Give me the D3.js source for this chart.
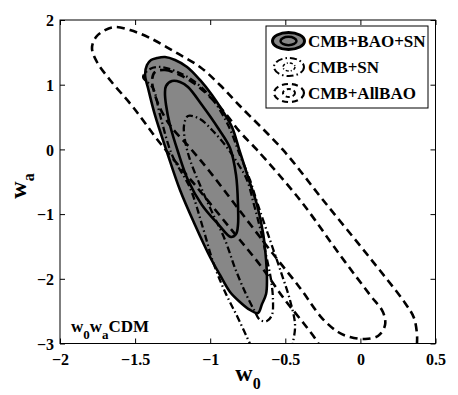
<!DOCTYPE html>
<html><head><meta charset="utf-8">
<script src="https://cdn.jsdelivr.net/npm/d3@7"></script>
<style>body{margin:0;background:#fff}svg{display:block}svg text{font-family:"Liberation Serif","Times New Roman","DejaVu Serif",serif !important;font-weight:bold}</style>
</head><body><svg id="c" width="458" height="395"></svg>
<script>
// Tick labels
const xTicks = [-2, -1.5, -1, -0.5, 0, 0.5];
const yTicks = [-3, -2, -1, 0, 1, 2];
const legendLabels = ["CMB+BAO+SN", "CMB+SN", "CMB+AllBAO"];

// CMB+BAO+SN 95% contour (filled) [w0, wa]
const bsn95 = [[-1.354,1.413],[-1.301,1.428],[-1.234,1.382],[-1.154,1.274],[-1.068,1.073],[-0.988,0.841],[-0.921,0.609],[-0.855,0.346],[-0.802,-0.040],[-0.735,-0.519],[-0.688,-0.859],[-0.648,-1.292],[-0.628,-1.709],[-0.622,-2.019],[-0.628,-2.235],[-0.655,-2.390],[-0.682,-2.529],[-0.735,-2.482],[-0.802,-2.359],[-0.868,-2.204],[-0.935,-1.941],[-1.001,-1.663],[-1.101,-1.168],[-1.201,-0.628],[-1.288,-0.040],[-1.368,0.532],[-1.414,0.949],[-1.434,1.150],[-1.421,1.304],[-1.394,1.382]];
// CMB+BAO+SN 68% contour
const bsn68 = [[-1.294,0.980],[-1.254,1.057],[-1.201,1.042],[-1.148,0.964],[-1.055,0.686],[-0.948,0.331],[-0.868,0.022],[-0.828,-0.396],[-0.815,-0.859],[-0.815,-1.168],[-0.828,-1.308],[-0.862,-1.354],[-0.948,-1.153],[-1.055,-0.859],[-1.148,-0.473],[-1.214,-0.040],[-1.268,0.377],[-1.294,0.686],[-1.301,0.872]];
// CMB+SN 95% (open at bottom edge)
const sn95 = [[-0.722,-3.07],[-0.815,-2.606],[-0.901,-2.204],[-0.981,-1.740],[-1.048,-1.215],[-1.134,-0.597],[-1.254,-0.087],[-1.334,0.532],[-1.381,0.949],[-1.447,1.119],[-1.401,1.243],[-1.334,1.274],[-1.234,1.212],[-1.101,1.042],[-0.981,0.764],[-0.881,0.377],[-0.802,-0.087],[-0.735,-0.473],[-0.682,-0.859],[-0.602,-1.400],[-0.529,-1.895],[-0.469,-2.328],[-0.435,-2.714],[-0.449,-2.992],[-0.455,-3.10]];
// CMB+SN 68%
const sn68 = [[-1.148,0.516],[-1.068,0.470],[-0.988,0.300],[-0.901,0.068],[-0.822,-0.195],[-0.755,-0.473],[-0.708,-0.859],[-0.668,-1.215],[-0.628,-1.632],[-0.595,-2.019],[-0.582,-2.328],[-0.589,-2.560],[-0.622,-2.652],[-0.668,-2.637],[-0.708,-2.482],[-0.768,-2.204],[-0.835,-1.833],[-0.901,-1.400],[-0.988,-0.968],[-1.068,-0.550],[-1.134,-0.164],[-1.168,0.145],[-1.174,0.377]];
// CMB+AllBAO 95% (open at bottom edge)
const ab95 = [[-0.262,-3.10],[-0.282,-2.992],[-0.369,-2.714],[-0.502,-2.328],[-0.668,-1.787],[-0.868,-1.215],[-1.101,-0.550],[-1.334,0.099],[-1.514,0.655],[-1.667,1.073],[-1.754,1.351],[-1.787,1.567],[-1.760,1.737],[-1.700,1.845],[-1.634,1.892],[-1.534,1.845],[-1.401,1.722],[-1.234,1.505],[-1.068,1.274],[-0.935,0.995],[-0.802,0.671],[-0.515,-0.009],[-0.249,-0.782],[0.064,-1.679],[0.297,-2.374],[0.357,-2.606],[0.377,-2.869],[0.377,-2.992],[0.377,-3.10]];
// CMB+AllBAO 68%
const ab68 = [[-1.368,1.196],[-1.301,1.227],[-1.201,1.150],[-1.101,1.011],[-1.001,0.810],[-0.901,0.563],[-0.802,0.269],[-0.688,-0.009],[-0.402,-0.782],[-0.136,-1.632],[0.064,-2.250],[0.150,-2.513],[0.164,-2.714],[0.117,-2.884],[0.031,-2.930],[-0.069,-2.900],[-0.149,-2.822],[-0.256,-2.606],[-0.402,-2.142],[-0.602,-1.555],[-0.822,-0.890],[-1.001,-0.349],[-1.134,0.022],[-1.254,0.331],[-1.321,0.578],[-1.368,0.841],[-1.387,1.073]];

const FONT = "Liberation Serif, Times New Roman, DejaVu Serif, serif";
const svg = d3.select("#c").attr("font-family", FONT).attr("font-weight","bold");
const L = 60, R = 435.5, T = 20, B = 343.5;
const x = d3.scaleLinear().domain([-2, 0.5]).range([L, R]);
const y = d3.scaleLinear().domain([-3, 2]).range([B, T]);
const GRAY = "#878787";

svg.append("clipPath").attr("id","clip").append("rect").attr("x",L).attr("y",T).attr("width",R-L).attr("height",B-T);
const g = svg.append("g").attr("clip-path","url(#clip)");

const closed = d3.line().x(d=>x(d[0])).y(d=>y(d[1])).curve(d3.curveCatmullRomClosed.alpha(0.5));
const open = d3.line().x(d=>x(d[0])).y(d=>y(d[1])).curve(d3.curveCatmullRom.alpha(0.5));

const DASH = "8,5", DASHDOT = "7,3,1.5,3";
g.append("path").attr("d", closed(bsn95)).attr("fill", GRAY).attr("stroke","#000").attr("stroke-width",2.6);
g.append("path").attr("d", closed(bsn68)).attr("fill", GRAY).attr("stroke","#000").attr("stroke-width",2.6);
g.append("path").attr("d", open(sn95)).attr("fill","none").attr("stroke","#000").attr("stroke-width",2.3).attr("stroke-dasharray",DASHDOT);
g.append("path").attr("d", closed(sn68)).attr("fill","none").attr("stroke","#000").attr("stroke-width",2.3).attr("stroke-dasharray",DASHDOT);
g.append("path").attr("d", open(ab95)).attr("fill","none").attr("stroke","#000").attr("stroke-width",2.6).attr("stroke-dasharray",DASH);
g.append("path").attr("d", closed(ab68)).attr("fill","none").attr("stroke","#000").attr("stroke-width",2.6).attr("stroke-dasharray",DASH);

// axes (MATLAB-style inward ticks on all sides)
const fmt = d => (d < 0 ? "\u2212" + Math.abs(d) : String(d));
const axB = svg.append("g").attr("transform",`translate(0,${B})`).call(d3.axisBottom(x).tickValues(xTicks).tickSizeInner(-5).tickSizeOuter(0).tickPadding(10).tickFormat(fmt));
const axT = svg.append("g").attr("transform",`translate(0,${T})`).call(d3.axisTop(x).tickValues(xTicks).tickSizeInner(-5).tickSizeOuter(0).tickFormat(""));
const axL = svg.append("g").attr("transform",`translate(${L},0)`).call(d3.axisLeft(y).tickValues(yTicks).tickSizeInner(-5).tickSizeOuter(0).tickPadding(6).tickFormat(fmt));
const axR = svg.append("g").attr("transform",`translate(${R},0)`).call(d3.axisRight(y).tickValues(yTicks).tickSizeInner(-5).tickSizeOuter(0).tickFormat(""));
svg.selectAll(".domain").remove();
svg.selectAll("g").filter(function(){return this.getAttribute("font-family");}).attr("font-family", FONT);
svg.selectAll(".tick line").attr("stroke","#000");
svg.selectAll(".tick text").attr("fill","#000").attr("font-size",16).attr("font-family",FONT).attr("font-weight","bold");
axL.selectAll(".tick text").attr("dy","0.36em");
svg.append("rect").attr("x",L).attr("y",T).attr("width",R-L).attr("height",B-T).attr("fill","none").attr("stroke","#000").attr("stroke-width",1);

// axis labels
const xl = svg.append("text").attr("x",248).attr("y",381).attr("text-anchor","middle").attr("font-size",24);
xl.append("tspan").text("w");
xl.append("tspan").attr("dy",8).attr("font-size",16).text("0");
const yl = svg.append("text").attr("transform","translate(26,186) rotate(-90)").attr("text-anchor","middle").attr("font-size",24);
yl.append("tspan").text("w");
yl.append("tspan").attr("dy",8).attr("font-size",16).text("a");

// annotation
const an = svg.append("text").attr("x",71).attr("y",332).attr("font-size",17);
an.append("tspan").text("w");
an.append("tspan").attr("dy",7).attr("font-size",13).text("0");
an.append("tspan").attr("dy",-7).text("w");
an.append("tspan").attr("dy",7).attr("font-size",13).text("a");
an.append("tspan").attr("dy",-7).text("CDM");

// legend
const lg = svg.append("g");
lg.append("rect").attr("x",266).attr("y",26).attr("width",162).attr("height",82).attr("fill","#fff").attr("stroke","#000").attr("stroke-width",1);
const rows = [41, 67, 93];
lg.append("ellipse").attr("cx",288.5).attr("cy",rows[0]).attr("rx",16).attr("ry",8.5).attr("fill",GRAY).attr("stroke","#000").attr("stroke-width",3);
lg.append("ellipse").attr("cx",288.5).attr("cy",rows[0]).attr("rx",8).attr("ry",4.2).attr("fill",GRAY).attr("stroke","#000").attr("stroke-width",2.5);
lg.append("ellipse").attr("cx",289).attr("cy",rows[1]).attr("rx",15).attr("ry",9).attr("fill","none").attr("stroke","#000").attr("stroke-width",2).attr("stroke-dasharray",DASHDOT);
lg.append("ellipse").attr("cx",289).attr("cy",rows[1]).attr("rx",6).attr("ry",4).attr("fill","none").attr("stroke","#000").attr("stroke-width",1.5).attr("stroke-dasharray","3,2,1,2");
lg.append("ellipse").attr("cx",289).attr("cy",rows[2]).attr("rx",15).attr("ry",9).attr("fill","none").attr("stroke","#000").attr("stroke-width",2.2).attr("stroke-dasharray","6,4");
lg.append("ellipse").attr("cx",289).attr("cy",rows[2]).attr("rx",6).attr("ry",4).attr("fill","none").attr("stroke","#000").attr("stroke-width",2).attr("stroke-dasharray","4,3");
legendLabels.forEach((t,i)=>{
  lg.append("text").attr("x",308).attr("y",rows[i]).attr("dy","0.35em").attr("font-size",17).text(t);
});
</script></body></html>
